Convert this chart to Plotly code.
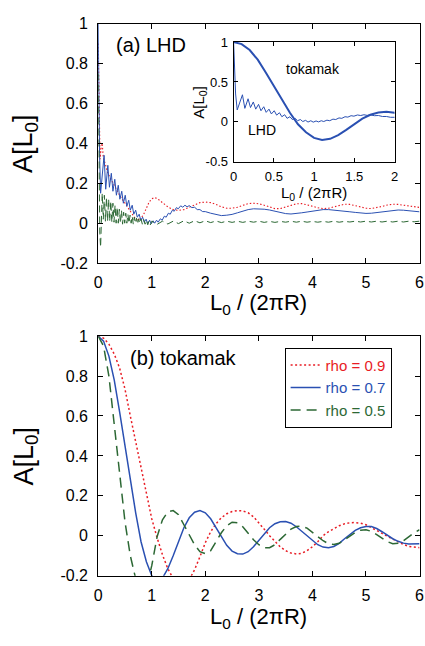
import plotly.graph_objects as go

# ---------------- data ----------------
# (a) LHD, top panel
lhd_blue_x = [0.000, 0.012, 0.025, 0.045, 0.075, 0.110, 0.140, 0.180, 0.210, 0.245, 0.275, 0.310,
              0.340, 0.375, 0.405, 0.440, 0.470, 0.505, 0.535, 0.570, 0.600, 0.635, 0.665, 0.700,
              0.730, 0.765, 0.795, 0.830, 0.860, 0.895, 0.925, 0.960, 0.990, 1.025, 1.055, 1.090,
              1.120, 1.160, 1.195, 1.235, 1.270, 1.310, 1.345, 1.385, 1.420, 1.460, 1.495, 1.540,
              1.580, 1.620, 1.660, 1.700, 1.750, 1.800, 1.850, 1.900, 1.950, 2.000,
              2.1, 2.2, 2.3, 2.4, 2.5, 2.6, 2.7, 2.8, 2.9, 3.0, 3.1, 3.2, 3.3, 3.4, 3.5, 3.6,
              3.7, 3.8, 3.9, 4.0, 4.1, 4.2, 4.3, 4.4, 4.5, 4.6, 4.7, 4.8, 4.9, 5.0, 5.1, 5.2,
              5.3, 5.4, 5.5, 5.6, 5.7, 5.8, 5.9, 6.0]
lhd_blue_y = [1.00, 0.62, 0.35, 0.15, 0.24, 0.34, 0.17, 0.29, 0.18, 0.25, 0.16, 0.22,
              0.14, 0.19, 0.12, 0.16, 0.10, 0.14, 0.085, 0.115, 0.065, 0.090, 0.045, 0.065,
              0.030, 0.045, 0.015, 0.030, 0.005, 0.020, -0.002, 0.015, -0.003, 0.012, 0.000, 0.015,
              0.005, 0.022, 0.015, 0.035, 0.030, 0.050, 0.045, 0.065, 0.060, 0.078, 0.072, 0.087,
              0.080, 0.090, 0.082, 0.088, 0.078, 0.080, 0.068, 0.068, 0.058, 0.058,
              0.050, 0.044, 0.038, 0.040, 0.044, 0.052, 0.060, 0.068, 0.072, 0.072, 0.070, 0.066,
              0.060, 0.054, 0.048, 0.046, 0.048, 0.052, 0.056, 0.060, 0.064, 0.068, 0.068, 0.066,
              0.063, 0.060, 0.057, 0.054, 0.050, 0.049, 0.050, 0.053, 0.057, 0.061, 0.064, 0.066,
              0.065, 0.063, 0.060, 0.057]

lhd_red_x = [0.000, 0.010, 0.020, 0.035, 0.055, 0.075, 0.095, 0.120, 0.150, 0.180, 0.220, 0.260,
             0.300, 0.350, 0.400, 0.450, 0.500, 0.550, 0.600, 0.650, 0.700, 0.750, 0.800, 0.850,
             0.900, 0.950, 1.000, 1.050, 1.100, 1.150, 1.200, 1.300, 1.400, 1.500, 1.600, 1.700,
             1.800, 1.900, 2.000, 2.100, 2.200, 2.300, 2.400, 2.500, 2.600, 2.700, 2.800, 2.900,
             3.000, 3.100, 3.200, 3.300, 3.400, 3.500, 3.600, 3.700, 3.800, 3.900, 4.000, 4.100,
             4.200, 4.300, 4.400, 4.500, 4.600, 4.700, 4.800, 4.900, 5.000, 5.100, 5.200, 5.300,
             5.400, 5.500, 5.600, 5.700, 5.800, 5.900, 6.000]
lhd_red_y = [0.90, 0.75, 0.45, 0.32, 0.38, 0.40, 0.33, 0.30, 0.28, 0.25, 0.23, 0.21,
             0.19, 0.16, 0.14, 0.12, 0.10, 0.075, 0.055, 0.035, 0.020, 0.015, 0.025, 0.045,
             0.080, 0.105, 0.122, 0.128, 0.124, 0.114, 0.102, 0.082, 0.068, 0.064, 0.068, 0.080,
             0.094, 0.103, 0.106, 0.103, 0.094, 0.082, 0.075, 0.075, 0.080, 0.090, 0.098, 0.100,
             0.097, 0.090, 0.080, 0.073, 0.073, 0.080, 0.090, 0.097, 0.098, 0.093, 0.085, 0.077,
             0.073, 0.075, 0.082, 0.090, 0.095, 0.094, 0.088, 0.080, 0.075, 0.073, 0.077, 0.084,
             0.091, 0.095, 0.094, 0.090, 0.085, 0.081, 0.079]

lhd_green_x = [0.000, 0.008, 0.018, 0.030, 0.045, 0.060, 0.075, 0.095, 0.115, 0.135, 0.155, 0.175,
               0.195, 0.215, 0.235, 0.255, 0.275, 0.295, 0.315, 0.335, 0.355, 0.375, 0.395, 0.415,
               0.435, 0.455, 0.475, 0.495, 0.515, 0.535, 0.555, 0.575, 0.595, 0.615, 0.635, 0.655,
               0.675, 0.695, 0.715, 0.735, 0.755, 0.775, 0.800, 0.825, 0.850, 0.875, 0.900, 0.925,
               0.950, 0.975, 1.000,
               1.1, 1.2, 1.3, 1.4, 1.5, 1.6, 1.7, 1.8, 1.9, 2.0, 2.1, 2.2, 2.3, 2.4, 2.5, 2.6,
               2.7, 2.8, 2.9, 3.0, 3.1, 3.2, 3.3, 3.4, 3.5, 3.6, 3.7, 3.8, 3.9, 4.0, 4.1, 4.2,
               4.3, 4.4, 4.5, 4.6, 4.7, 4.8, 4.9, 5.0, 5.1, 5.2, 5.3, 5.4, 5.5, 5.6, 5.7, 5.8,
               5.9, 6.0]
lhd_green_y = [0.75, 0.50, 0.15, -0.05, -0.12, 0.05, 0.15, 0.02, 0.14, 0.01, 0.13, 0.01,
               0.12, 0.01, 0.11, 0.005, 0.10, 0.005, 0.09, 0.0, 0.08, 0.0, 0.07, 0.0,
               0.065, -0.005, 0.055, 0.0, 0.05, 0.0, 0.045, 0.0, 0.04, 0.0, 0.035, -0.005,
               0.03, 0.0, 0.025, -0.005, 0.022, 0.0, 0.02, -0.005, 0.018, -0.005, 0.015, -0.008,
               0.012, -0.008, 0.010,
               -0.006, 0.010, -0.004, 0.010, -0.002, 0.012, 0.000, 0.012, 0.002, 0.012, 0.003, 0.011,
               0.003, 0.010, 0.004, 0.010, 0.004, 0.010, 0.005, 0.010, 0.004, 0.009, 0.004, 0.009,
               0.005, 0.010, 0.005, 0.010, 0.005, 0.009, 0.005, 0.009, 0.005, 0.010, 0.005, 0.009,
               0.006, 0.010, 0.006, 0.010, 0.006, 0.010, 0.006, 0.010, 0.006, 0.010, 0.006, 0.010,
               0.007, 0.010]

# (b) tokamak, bottom panel (also the inset "tokamak" curve = rho 0.7)
tok_x = [0.0, 0.1, 0.2, 0.3, 0.4, 0.5, 0.6, 0.7, 0.8, 0.9, 1.0, 1.1, 1.2, 1.3, 1.4, 1.5,
         1.6, 1.7, 1.8, 1.9, 2.0, 2.1, 2.2, 2.3, 2.4, 2.5, 2.6, 2.7, 2.8, 2.9, 3.0, 3.1,
         3.2, 3.3, 3.4, 3.5, 3.6, 3.7, 3.8, 3.9, 4.0, 4.1, 4.2, 4.3, 4.4, 4.5, 4.6, 4.7,
         4.8, 4.9, 5.0, 5.1, 5.2, 5.3, 5.4, 5.5, 5.6, 5.7, 5.8, 5.9, 6.0]
tok_rho09 = [1.000, 0.990, 0.960, 0.910, 0.840, 0.735, 0.600, 0.470, 0.330, 0.200, 0.085, -0.010,
             -0.095, -0.165, -0.215, -0.245, -0.248, -0.220, -0.170, -0.105, -0.035, 0.020,
             0.060, 0.090, 0.110, 0.121, 0.126, 0.124, 0.115, 0.095, 0.066, 0.033,
             0.000, -0.030, -0.056, -0.075, -0.087, -0.091, -0.088, -0.075, -0.055, -0.030,
             0.000, 0.020, 0.037, 0.050, 0.060, 0.065, 0.066, 0.063, 0.055, 0.042,
             0.027, 0.012, -0.003, -0.018, -0.032, -0.044, -0.053, -0.058, -0.060]
tok_rho07 = [1.000, 0.975, 0.900, 0.780, 0.620, 0.450, 0.280, 0.115, -0.030, -0.130, -0.200, -0.225,
             -0.212, -0.165, -0.100, -0.025, 0.040, 0.090, 0.118, 0.126, 0.115, 0.085,
             0.040, -0.008, -0.048, -0.077, -0.090, -0.092, -0.080, -0.055, -0.022, 0.012,
             0.040, 0.060, 0.070, 0.071, 0.063, 0.045, 0.022, -0.002, -0.025, -0.045,
             -0.057, -0.060, -0.054, -0.038, -0.015, 0.008, 0.027, 0.040, 0.046, 0.046,
             0.036, 0.020, 0.002, -0.015, -0.028, -0.037, -0.041, -0.042, -0.040]
tok_rho05 = [1.000, 0.950, 0.800, 0.560, 0.300, 0.070, -0.100, -0.215, -0.290, -0.260, -0.150, -0.005,
             0.080, 0.120, 0.126, 0.105, 0.055, 0.005, -0.045, -0.080, -0.090, -0.075,
             -0.030, 0.015, 0.050, 0.068, 0.065, 0.045, 0.012, -0.020, -0.045, -0.060,
             -0.060, -0.045, -0.018, 0.010, 0.033, 0.046, 0.048, 0.038, 0.018, -0.005,
             -0.025, -0.040, -0.044, -0.038, -0.022, -0.002, 0.016, 0.028, 0.030, 0.022,
             0.006, -0.013, -0.030, -0.040, -0.038, -0.025, -0.005, 0.015, 0.030]

rho_names = ["rho = 0.9", "rho = 0.7", "rho = 0.5"]
y_ticks_main = [-0.2, 0, 0.2, 0.4, 0.6, 0.8, 1]
y_ticktext_main = ["-0.2", "0", "0.2", "0.4", "0.6", "0.8", "1"]
x_ticks_main = [0, 1, 2, 3, 4, 5, 6]
y_ticks_inset = [-0.5, 0, 0.5, 1]
y_ticktext_inset = ["-0.5", "0", "0.5", "1"]
x_ticks_inset = [0, 0.5, 1, 1.5, 2]
x_ticktext_inset = ["0", "0.5", "1", "1.5", "2"]

# ---------------- style ----------------
RED = "rgb(232,28,36)"
BLUE = "rgb(42,80,178)"
GREEN = "rgb(44,104,52)"
FONT = "Liberation Sans, Arial, Helvetica, sans-serif"
W, H = 425, 646

fig = go.Figure()

# top panel
fig.add_trace(go.Scatter(x=lhd_red_x, y=lhd_red_y, mode="lines", xaxis="x", yaxis="y",
                         line=dict(color=RED, width=1.1, dash="1.5px,2px"), showlegend=False))
fig.add_trace(go.Scatter(x=lhd_blue_x, y=lhd_blue_y, mode="lines", xaxis="x", yaxis="y",
                         line=dict(color=BLUE, width=1), showlegend=False))
fig.add_trace(go.Scatter(x=lhd_green_x, y=lhd_green_y, mode="lines", xaxis="x", yaxis="y",
                         line=dict(color=GREEN, width=1, dash="7px,4px"), showlegend=False))

# bottom panel
for yv, nm, col, dash in [(tok_rho09, rho_names[0], RED, "2px,2.5px"),
                          (tok_rho07, rho_names[1], BLUE, "solid"),
                          (tok_rho05, rho_names[2], GREEN, "10px,6px")]:
    fig.add_trace(go.Scatter(x=tok_x, y=yv, mode="lines", xaxis="x2", yaxis="y2",
                             line=dict(color=col, width=1.5, dash=dash),
                             name="<span style='color:%s'>%s</span>" % (col, nm)))

# inset
fig.add_trace(go.Scatter(x=tok_x, y=tok_rho07, mode="lines", xaxis="x3", yaxis="y3",
                         line=dict(color=BLUE, width=2), showlegend=False))
fig.add_trace(go.Scatter(x=lhd_blue_x, y=lhd_blue_y, mode="lines", xaxis="x3", yaxis="y3",
                         line=dict(color=BLUE, width=1), showlegend=False))

def px_x(p):
    return p / W

def px_y(p):
    return 1 - p / H

axis_common = dict(showline=True, linecolor="black", linewidth=1, mirror="ticks",
                   ticks="inside", tickcolor="black", showgrid=False, zeroline=False,
                   tickfont=dict(family=FONT, size=16, color="black"))

xd = [px_x(96), px_x(423.5)]
fig.update_layout(
    width=W, height=H, margin=dict(l=0, r=0, t=0, b=0),
    paper_bgcolor="white", plot_bgcolor="rgba(0,0,0,0)",
    font=dict(family=FONT, color="black"),
    xaxis=dict(domain=xd, range=[0, 6], anchor="y", tickvals=x_ticks_main, ticklen=5,
               ticklabelstandoff=5, **axis_common),
    yaxis=dict(domain=[px_y(262), px_y(16)], range=[-0.2, 1], anchor="x",
               tickvals=y_ticks_main, ticktext=y_ticktext_main, ticklen=5,
               ticklabelstandoff=6, **axis_common),
    xaxis2=dict(domain=xd, range=[0, 6], anchor="y2", tickvals=x_ticks_main, ticklen=5,
                ticklabelstandoff=5, **axis_common),
    yaxis2=dict(domain=[px_y(583), px_y(337)], range=[-0.2, 1], anchor="x2",
                tickvals=y_ticks_main, ticktext=y_ticktext_main, ticklen=5,
                ticklabelstandoff=6, **axis_common),
    xaxis3=dict(domain=[px_x(234), px_x(398)], range=[0, 2], anchor="y3",
                tickvals=x_ticks_inset, ticktext=x_ticktext_inset, ticklen=4,
                ticklabelstandoff=3,
                **{**axis_common, "tickfont": dict(family=FONT, size=13, color="black")}),
    yaxis3=dict(domain=[px_y(158), px_y(35)], range=[-0.5, 1], anchor="x3",
                tickvals=y_ticks_inset, ticktext=y_ticktext_inset, ticklen=4,
                ticklabelstandoff=2,
                **{**axis_common, "tickfont": dict(family=FONT, size=13, color="black")}),
    legend=dict(x=px_x(286), y=px_y(349), xanchor="left", yanchor="top",
                bgcolor="white", bordercolor="black", borderwidth=1,
                font=dict(family=FONT, size=15), tracegroupgap=0),
)

ann = []
xt = "L<sub>0</sub> / (2πR)"
yt = "A[L<sub>0</sub>]"
ann.append(dict(text=xt, x=px_x(259.5), y=px_y(304), xref="paper", yref="paper",
                showarrow=False, font=dict(size=22), xanchor="center", yanchor="middle"))
ann.append(dict(text=xt, x=px_x(259.5), y=px_y(626), xref="paper", yref="paper",
                showarrow=False, font=dict(size=22), xanchor="center", yanchor="middle"))
ann.append(dict(text=yt, x=px_x(22), y=px_y(139), xref="paper", yref="paper",
                showarrow=False, font=dict(size=27), textangle=-90,
                xanchor="center", yanchor="middle"))
ann.append(dict(text=yt, x=px_x(22), y=px_y(460), xref="paper", yref="paper",
                showarrow=False, font=dict(size=27), textangle=-90,
                xanchor="center", yanchor="middle"))
ann.append(dict(text=xt, x=px_x(315.5), y=px_y(190), xref="paper", yref="paper",
                showarrow=False, font=dict(size=15), xanchor="center", yanchor="middle"))
ann.append(dict(text=yt, x=px_x(199), y=px_y(97), xref="paper", yref="paper",
                showarrow=False, font=dict(size=15), textangle=-90,
                xanchor="center", yanchor="middle"))
ann.append(dict(text="(a) LHD", x=px_x(112), y=px_y(38), xref="paper", yref="paper",
                showarrow=False, font=dict(size=20), xanchor="left", yanchor="middle"))
ann.append(dict(text="(b) tokamak", x=px_x(126), y=px_y(359), xref="paper", yref="paper",
                showarrow=False, font=dict(size=20), xanchor="left", yanchor="middle"))
ann.append(dict(text="tokamak", x=px_x(285), y=px_y(63), xref="paper", yref="paper",
                showarrow=False, font=dict(size=14), xanchor="left", yanchor="middle"))
ann.append(dict(text="LHD", x=px_x(247), y=px_y(125), xref="paper", yref="paper",
                showarrow=False, font=dict(size=14), xanchor="left", yanchor="middle"))
fig.update_layout(annotations=ann)

fig.write_html("out.html", config={"displayModeBar": False},
               post_script="document.body.style.margin='0';document.body.style.padding='0';"
                           "document.body.style.overflow='hidden';")
